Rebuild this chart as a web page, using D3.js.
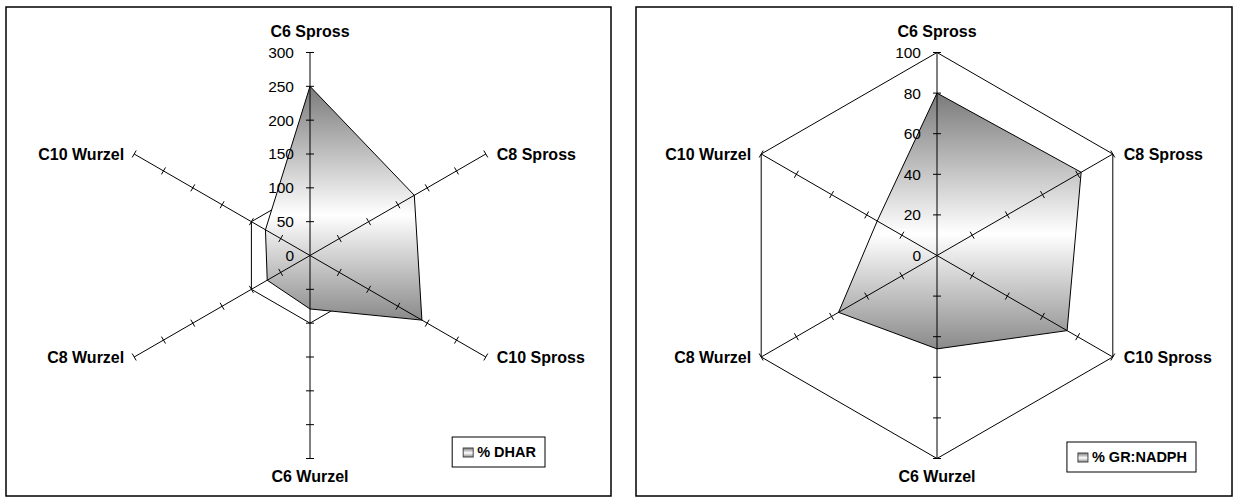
<!DOCTYPE html>
<html>
<head>
<meta charset="utf-8">
<script src="https://cdn.jsdelivr.net/npm/d3@7"></script>
<style>
  body { margin: 0; background: #fff; }
  text { font-family: "Liberation Sans", Arial, sans-serif; }
</style>
</head>
<body>
<svg id="chart" width="1242" height="500"></svg>
<script>
// categories (clockwise from top)
var categories = ["C6 Spross", "C8 Spross", "C10 Spross", "C6 Wurzel", "C8 Wurzel", "C10 Wurzel"];

// series values
var dharValues = [250, 178, 191, 79, 73, 76];
var grValues = [80, 82, 74, 46, 56, 34];

// tick labels
var dharTicks = [0, 50, 100, 150, 200, 250, 300];
var grTicks = [0, 20, 40, 60, 80, 100];

var dharGrid = [100];
var grGrid = [100];

var svg = d3.select("#chart");

// gradient used by both polygons and legend keys
var defs = svg.append("defs");
var grad = defs.append("linearGradient")
  .attr("id", "fillGrad")
  .attr("x1", 0).attr("y1", 0).attr("x2", 0).attr("y2", 1);
grad.append("stop").attr("offset", "0%").attr("stop-color", "#7a7a7a");
grad.append("stop").attr("offset", "55%").attr("stop-color", "#ffffff");
grad.append("stop").attr("offset", "100%").attr("stop-color", "#8a8a8a");

function drawRadar(opt) {
  // frame
  svg.append("rect")
    .attr("x", opt.frame[0]).attr("y", opt.frame[1])
    .attr("width", opt.frame[2]).attr("height", opt.frame[3])
    .attr("fill", "#fff").attr("stroke", "#000").attr("stroke-width", 1.5);

  var g = svg.append("g")
    .attr("transform", "translate(" + opt.cx + "," + opt.cy + ")");

  var r = d3.scaleLinear().domain([0, d3.max(opt.ticks)]).range([0, opt.radius]);
  var n = categories.length;
  var angle = function(i) { return i * 2 * Math.PI / n; };
  var px = function(i, v) { return r(v) * Math.sin(angle(i)); };
  var py = function(i, v) { return -r(v) * Math.cos(angle(i)); };

  // hexagon gridlines
  opt.grid.forEach(function(gv) {
    g.append("polygon")
      .attr("points", categories.map(function(c, i) { return px(i, gv) + "," + py(i, gv); }).join(" "))
      .attr("fill", "none").attr("stroke", "#000").attr("stroke-width", 1);
  });

  // data polygon
  g.append("polygon")
    .attr("points", opt.values.map(function(v, i) { return px(i, v) + "," + py(i, v); }).join(" "))
    .attr("fill", "url(#fillGrad)")
    .attr("stroke", "#000").attr("stroke-width", 1);

  var maxV = d3.max(opt.ticks);

  // axes + tick marks
  categories.forEach(function(c, i) {
    g.append("line")
      .attr("x1", 0).attr("y1", 0)
      .attr("x2", px(i, maxV)).attr("y2", py(i, maxV))
      .attr("stroke", "#000").attr("stroke-width", 1);

    var a = angle(i);
    var nx = Math.cos(a), ny = Math.sin(a); // perpendicular direction
    opt.ticks.slice(1).forEach(function(t) {
      var x = px(i, t), y = py(i, t);
      g.append("line")
        .attr("x1", x - 4 * nx).attr("y1", y - 4 * ny)
        .attr("x2", x + 4 * nx).attr("y2", y + 4 * ny)
        .attr("stroke", "#000").attr("stroke-width", 1);
    });
  });

  // value tick labels on the first axis
  g.selectAll(".tickLabel")
    .data(opt.ticks)
    .enter().append("text")
    .attr("class", "tickLabel")
    .attr("x", -16)
    .attr("y", function(d) { return -r(d); })
    .attr("dy", "0.35em")
    .attr("text-anchor", "end")
    .attr("font-size", 15.5)
    .text(function(d) { return d; });

  // category labels
  categories.forEach(function(c, i) {
    var x = px(i, maxV), y = py(i, maxV);
    var anchor = "middle", dx = 0, dy = 6;
    if (i === 0) { dy = -15.5; }
    else if (i === 3) { dy = 23; }
    else if (i < 3) { anchor = "start"; dx = 11; }
    else { anchor = "end"; dx = -10; }
    g.append("text")
      .attr("x", x + dx).attr("y", y + dy)
      .attr("text-anchor", anchor)
      .attr("font-size", 16)
      .attr("font-weight", "bold")
      .text(c);
  });

  // legend
  var lg = svg.append("g");
  var txt = lg.append("text")
    .attr("x", opt.legendRight - 9)
    .attr("y", opt.legendY + 15)
    .attr("dy", "0.35em")
    .attr("text-anchor", "end")
    .attr("font-size", 14.5)
    .attr("font-weight", "bold")
    .text(opt.legend);
  var tw = txt.node().getComputedTextLength();
  var tx = opt.legendRight - 9 - tw;
  lg.append("rect")
    .attr("x", tx - 14).attr("y", opt.legendY + 11)
    .attr("width", 10).attr("height", 9)
    .attr("fill", "url(#fillGrad)")
    .attr("stroke", "#444").attr("stroke-width", 1);
  lg.insert("rect", "text")
    .attr("x", tx - 25).attr("y", opt.legendY)
    .attr("width", tw + 34).attr("height", 30)
    .attr("fill", "#fff").attr("stroke", "#000").attr("stroke-width", 1);
}

drawRadar({
  frame: [6, 7, 605, 489],
  cx: 310, cy: 255.5, radius: 203,
  values: dharValues, ticks: dharTicks, grid: dharGrid,
  legend: "% DHAR", legendRight: 545, legendY: 437
});

drawRadar({
  frame: [636, 7, 596, 489],
  cx: 937, cy: 255.5, radius: 203,
  values: grValues, ticks: grTicks, grid: grGrid,
  legend: "% GR:NADPH", legendRight: 1196, legendY: 442
});
</script>
</body>
</html>
